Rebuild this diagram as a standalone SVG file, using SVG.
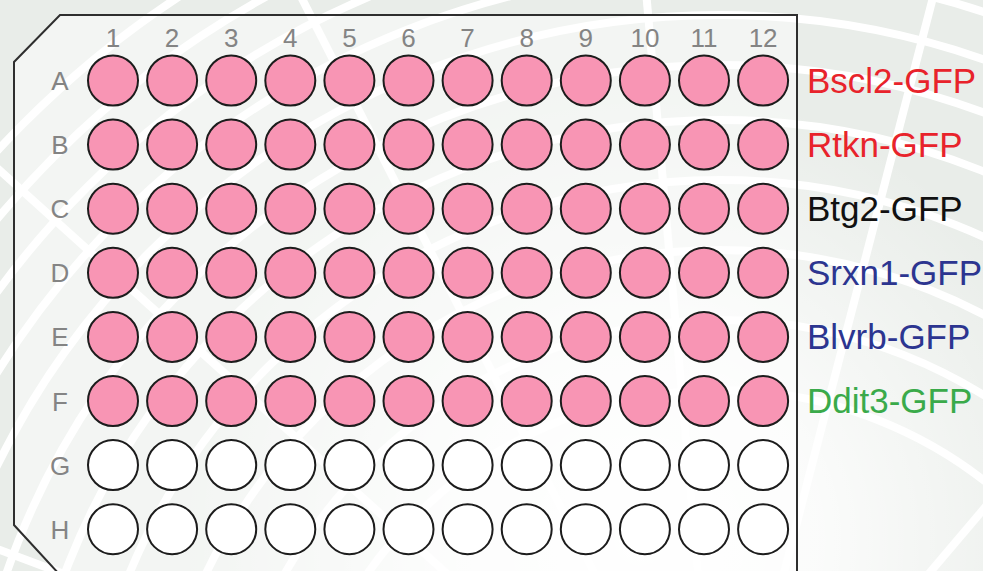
<svg xmlns="http://www.w3.org/2000/svg" width="983" height="571" viewBox="0 0 983 571">
<style>
.full{fill:#f895b4;stroke:#1c1c1c;stroke-width:2}
.empty{fill:#ffffff;stroke:#1c1c1c;stroke-width:2}
.col{font-family:"Liberation Sans",Arial,sans-serif;font-size:26px;fill:#848484;text-anchor:middle}
.row{font-family:"Liberation Sans",Arial,sans-serif;font-size:26px;fill:#848484;text-anchor:middle}
.lab{font-family:"Liberation Sans",Arial,sans-serif;font-size:35px}
.arc{fill:none;stroke:#ffffff;stroke-width:8}
</style>
<defs>
<radialGradient id="fade" cx="640" cy="540" r="460" gradientUnits="userSpaceOnUse">
<stop offset="0" stop-color="#ffffff" stop-opacity="1"/>
<stop offset="0.4" stop-color="#ffffff" stop-opacity="0.8"/>
<stop offset="1" stop-color="#ffffff" stop-opacity="0"/>
</radialGradient>
</defs>
<g id="background">
<rect x="0" y="0" width="983" height="571" fill="#e9ede9"/>
<g class="arc">
<circle cx="720" cy="820" r="430"/>
<circle cx="720" cy="820" r="500"/>
<circle cx="720" cy="820" r="570"/>
<circle cx="720" cy="820" r="640"/>
<circle cx="720" cy="820" r="700"/>
<circle cx="720" cy="820" r="755"/>
<circle cx="720" cy="820" r="805"/>
<circle cx="720" cy="820" r="850"/>
<circle cx="720" cy="820" r="895"/>
<circle cx="720" cy="820" r="940"/>
<circle cx="720" cy="820" r="985"/>
<line x1="720" y1="820" x2="-400" y2="400"/>
<line x1="720" y1="820" x2="-300" y2="-100"/>
<line x1="720" y1="820" x2="150" y2="-300"/>
<line x1="720" y1="820" x2="620" y2="-300"/>
<line x1="720" y1="820" x2="1010" y2="-300"/>
<line x1="720" y1="820" x2="1500" y2="-100"/>
</g>
<rect x="0" y="0" width="983" height="571" fill="url(#fade)"/>
</g>
<g id="plate">
<path d="M60,15 L797,15 L797,575 L60,575 L14,525 L14,62 Z" fill="#ffffff" fill-opacity="0.45" stroke="#2e2e2e" stroke-width="2"/>
</g>
<g id="column-labels">
<text class="col" x="113" y="47">1</text>
<text class="col" x="172.1" y="47">2</text>
<text class="col" x="231.2" y="47">3</text>
<text class="col" x="290.3" y="47">4</text>
<text class="col" x="349.4" y="47">5</text>
<text class="col" x="408.5" y="47">6</text>
<text class="col" x="467.6" y="47">7</text>
<text class="col" x="526.7" y="47">8</text>
<text class="col" x="585.8" y="47">9</text>
<text class="col" x="644.9" y="47">10</text>
<text class="col" x="704" y="47">11</text>
<text class="col" x="763.1" y="47">12</text>
</g>
<g id="row-labels">
<text class="row" x="60" y="90">A</text>
<text class="row" x="60" y="154.1">B</text>
<text class="row" x="60" y="218.2">C</text>
<text class="row" x="60" y="282.3">D</text>
<text class="row" x="60" y="346.4">E</text>
<text class="row" x="60" y="410.5">F</text>
<text class="row" x="60" y="474.6">G</text>
<text class="row" x="60" y="538.7">H</text>
</g>
<g id="row-A">
<circle class="full" cx="113" cy="80.5" r="25"/><circle class="full" cx="172.1" cy="80.5" r="25"/><circle class="full" cx="231.2" cy="80.5" r="25"/><circle class="full" cx="290.3" cy="80.5" r="25"/><circle class="full" cx="349.4" cy="80.5" r="25"/><circle class="full" cx="408.5" cy="80.5" r="25"/><circle class="full" cx="467.6" cy="80.5" r="25"/><circle class="full" cx="526.7" cy="80.5" r="25"/><circle class="full" cx="585.8" cy="80.5" r="25"/><circle class="full" cx="644.9" cy="80.5" r="25"/><circle class="full" cx="704" cy="80.5" r="25"/><circle class="full" cx="763.1" cy="80.5" r="25"/>
</g>
<g id="row-B">
<circle class="full" cx="113" cy="144.6" r="25"/><circle class="full" cx="172.1" cy="144.6" r="25"/><circle class="full" cx="231.2" cy="144.6" r="25"/><circle class="full" cx="290.3" cy="144.6" r="25"/><circle class="full" cx="349.4" cy="144.6" r="25"/><circle class="full" cx="408.5" cy="144.6" r="25"/><circle class="full" cx="467.6" cy="144.6" r="25"/><circle class="full" cx="526.7" cy="144.6" r="25"/><circle class="full" cx="585.8" cy="144.6" r="25"/><circle class="full" cx="644.9" cy="144.6" r="25"/><circle class="full" cx="704" cy="144.6" r="25"/><circle class="full" cx="763.1" cy="144.6" r="25"/>
</g>
<g id="row-C">
<circle class="full" cx="113" cy="208.7" r="25"/><circle class="full" cx="172.1" cy="208.7" r="25"/><circle class="full" cx="231.2" cy="208.7" r="25"/><circle class="full" cx="290.3" cy="208.7" r="25"/><circle class="full" cx="349.4" cy="208.7" r="25"/><circle class="full" cx="408.5" cy="208.7" r="25"/><circle class="full" cx="467.6" cy="208.7" r="25"/><circle class="full" cx="526.7" cy="208.7" r="25"/><circle class="full" cx="585.8" cy="208.7" r="25"/><circle class="full" cx="644.9" cy="208.7" r="25"/><circle class="full" cx="704" cy="208.7" r="25"/><circle class="full" cx="763.1" cy="208.7" r="25"/>
</g>
<g id="row-D">
<circle class="full" cx="113" cy="272.8" r="25"/><circle class="full" cx="172.1" cy="272.8" r="25"/><circle class="full" cx="231.2" cy="272.8" r="25"/><circle class="full" cx="290.3" cy="272.8" r="25"/><circle class="full" cx="349.4" cy="272.8" r="25"/><circle class="full" cx="408.5" cy="272.8" r="25"/><circle class="full" cx="467.6" cy="272.8" r="25"/><circle class="full" cx="526.7" cy="272.8" r="25"/><circle class="full" cx="585.8" cy="272.8" r="25"/><circle class="full" cx="644.9" cy="272.8" r="25"/><circle class="full" cx="704" cy="272.8" r="25"/><circle class="full" cx="763.1" cy="272.8" r="25"/>
</g>
<g id="row-E">
<circle class="full" cx="113" cy="336.9" r="25"/><circle class="full" cx="172.1" cy="336.9" r="25"/><circle class="full" cx="231.2" cy="336.9" r="25"/><circle class="full" cx="290.3" cy="336.9" r="25"/><circle class="full" cx="349.4" cy="336.9" r="25"/><circle class="full" cx="408.5" cy="336.9" r="25"/><circle class="full" cx="467.6" cy="336.9" r="25"/><circle class="full" cx="526.7" cy="336.9" r="25"/><circle class="full" cx="585.8" cy="336.9" r="25"/><circle class="full" cx="644.9" cy="336.9" r="25"/><circle class="full" cx="704" cy="336.9" r="25"/><circle class="full" cx="763.1" cy="336.9" r="25"/>
</g>
<g id="row-F">
<circle class="full" cx="113" cy="401" r="25"/><circle class="full" cx="172.1" cy="401" r="25"/><circle class="full" cx="231.2" cy="401" r="25"/><circle class="full" cx="290.3" cy="401" r="25"/><circle class="full" cx="349.4" cy="401" r="25"/><circle class="full" cx="408.5" cy="401" r="25"/><circle class="full" cx="467.6" cy="401" r="25"/><circle class="full" cx="526.7" cy="401" r="25"/><circle class="full" cx="585.8" cy="401" r="25"/><circle class="full" cx="644.9" cy="401" r="25"/><circle class="full" cx="704" cy="401" r="25"/><circle class="full" cx="763.1" cy="401" r="25"/>
</g>
<g id="row-G">
<circle class="empty" cx="113" cy="465.1" r="25"/><circle class="empty" cx="172.1" cy="465.1" r="25"/><circle class="empty" cx="231.2" cy="465.1" r="25"/><circle class="empty" cx="290.3" cy="465.1" r="25"/><circle class="empty" cx="349.4" cy="465.1" r="25"/><circle class="empty" cx="408.5" cy="465.1" r="25"/><circle class="empty" cx="467.6" cy="465.1" r="25"/><circle class="empty" cx="526.7" cy="465.1" r="25"/><circle class="empty" cx="585.8" cy="465.1" r="25"/><circle class="empty" cx="644.9" cy="465.1" r="25"/><circle class="empty" cx="704" cy="465.1" r="25"/><circle class="empty" cx="763.1" cy="465.1" r="25"/>
</g>
<g id="row-H">
<circle class="empty" cx="113" cy="529.2" r="25"/><circle class="empty" cx="172.1" cy="529.2" r="25"/><circle class="empty" cx="231.2" cy="529.2" r="25"/><circle class="empty" cx="290.3" cy="529.2" r="25"/><circle class="empty" cx="349.4" cy="529.2" r="25"/><circle class="empty" cx="408.5" cy="529.2" r="25"/><circle class="empty" cx="467.6" cy="529.2" r="25"/><circle class="empty" cx="526.7" cy="529.2" r="25"/><circle class="empty" cx="585.8" cy="529.2" r="25"/><circle class="empty" cx="644.9" cy="529.2" r="25"/><circle class="empty" cx="704" cy="529.2" r="25"/><circle class="empty" cx="763.1" cy="529.2" r="25"/>
</g>
<g id="strain-labels">
<text class="lab" x="807" y="92.5" fill="#e8232b">Bscl2-GFP</text>
<text class="lab" x="807" y="156.6" fill="#e8232b">Rtkn-GFP</text>
<text class="lab" x="807" y="220.7" fill="#111111">Btg2-GFP</text>
<text class="lab" x="807" y="284.8" fill="#2c3590">Srxn1-GFP</text>
<text class="lab" x="807" y="348.9" fill="#2c3590">Blvrb-GFP</text>
<text class="lab" x="807" y="413" fill="#3aaa4a">Ddit3-GFP</text>
</g>
</svg>
